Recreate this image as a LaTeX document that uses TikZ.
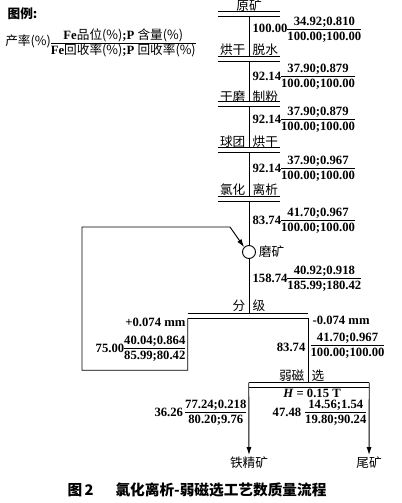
\documentclass[tikz,border=0pt]{standalone}
\usepackage{fontspec}
\setmainfont{Liberation Serif}
\newfontfamily\cjk{Noto Sans CJK SC}
\usetikzlibrary{arrows.meta,positioning}

\newcommand\frc[2]{$\vcenter{\offinterlineskip\halign{\hfil##\hfil\cr\rule[-2.6pt]{0pt}{7.6pt}#1\cr\noalign{\hrule height .6pt}\rule[-1.4pt]{0pt}{9.6pt}#2\cr}}$}

\tikzset{
  every node/.style={inner sep=1pt},
  bar/.style={minimum height=3pt,minimum width=46.5pt,inner sep=0pt},
  op/.style={font=\cjk\fontsize{9.5}{11}\selectfont},
  val/.style={font=\bfseries\fontsize{9.5}{11}\selectfont},
  flow/.style={line width=.7pt},
  arr/.style={flow,-{Latex[length=6pt,width=3.8pt]}}
}

\begin{document}
\begin{tikzpicture}[x=0.75pt,y=-0.75pt]
  \useasboundingbox (0,0) rectangle (402,503);

  % legend
  \node[op,font=\cjk\bfseries\fontsize{9.5}{11}\selectfont,anchor=west] (lg) at (6,14) {图例:};
  \node[val,anchor=west,inner sep=0pt] (lgy) at (5,43) {{\cjk\mdseries 产率(\%)}\frc{Fe{\cjk\mdseries 品位(\%)};P {\cjk\mdseries 含量(\%)}}{Fe{\cjk\mdseries 回收率(\%)};P {\cjk\mdseries 回收率(\%)}}};

  % bars
  \node[op] (ore) at (249,6) {原矿};
  \node[bar] (b0) at (249,14) {};
  \node[bar] (b1) at (249,59) {};
  \node[bar] (b2) at (249,104) {};
  \node[bar] (b3) at (249,150) {};
  \node[bar] (b4) at (249,199) {};
  \node[circle,draw,flow,minimum size=9.75pt,inner sep=0pt] (mill) at (249,252) {};
  \node[op,right=1pt of mill] (millt) {磨矿};
  \node[bar,minimum width=90pt] (cls) at (248,316) {};
  \node[bar,minimum width=90pt] (mag) at (309,385) {};

  \foreach \y/\a/\b [count=\i] in {50/烘干/脱水,97/干磨/制粉,142/球团/烘干,190/氯化/离析,306/分/级}
    {\node[op,anchor=east] (L\i a) at (247,\y) {\a};
     \node[op,anchor=west] (L\i b) at (251,\y) {\b};}
  \node[op,anchor=east] (Lma) at (306,376) {弱磁};
  \node[op,anchor=west] (Lmb) at (310,376) {选};

  \foreach \b in {b0,b1,b2,b3,b4,cls,mag}
    \draw[flow] (\b.north west) -- (\b.north east) (\b.south west) -- (\b.south east);

  % streams
  \foreach \y/\r/\n/\d [count=\i] in {30/100.00/34.92;0.810/100.00;100.00,
      77/92.14/37.90;0.879/100.00;100.00, 120/92.14/37.90;0.879/100.00;100.00,
      169/92.14/37.90;0.967/100.00;100.00, 221/83.74/41.70;0.967/100.00;100.00,
      279/158.74/40.92;0.918/185.99;180.42}
    \node[val,anchor=west] (s\i) at (251,\y) {\r\frc{\n}{\d}};

  \node[val,anchor=east] (cp) at (187,322) {+0.074 mm};
  \node[val,anchor=west] (cm) at (311,320) {-0.074 mm};
  \node[val,anchor=east] (s7) at (187,349) {75.00\frc{40.04;0.864}{85.99;80.42}};
  \node[val,anchor=east] (s8n) at (307,347) {83.74};
  \node[val,anchor=west] (s8f) at (309,346) {\frc{41.70;0.967}{100.00;100.00}};
  \node[val,inner sep=0pt] (fld) at (312,393) {\textit{H} = 0.15 T};
  \node[val,anchor=east] (s9) at (248,413) {36.26\,\frc{77.24;0.218}{80.20;9.76}};
  \node[val,anchor=east] (s10) at (368,413) {47.48\hspace{3pt}\frc{14.56;1.54}{19.80;90.24}};

  \node[op,anchor=north] (conc) at (249,455) {铁精矿};
  \node[op,anchor=north] (tail) at (369,455) {尾矿};

  % connectors
  \foreach \a/\b in {b0/b1,b1/b2,b2/b3,b3/b4,b4/mill}
    \draw[flow] (\a.south) -- (\b.north);
  \draw[flow] (mill) -- (mill |- cls.north);
  \draw[flow] (cls.south east) -- (cls.south east |- mag.north);
  \coordinate (fb) at (82,227);
  \draw[arr] (cls.south west) -- ++(0,52) -| (fb) -- ++(148,0) -- (mill.north west);
  \draw[arr] (mag.north west) -- (conc);
  \draw[arr] (mag.north east) -- (tail);

  \node[font=\cjk\bfseries\fontsize{11}{13}\selectfont] (cap) at (197,490) {图\,2\hspace{1.5em}氯化离析-弱磁选工艺数质量流程};
\end{tikzpicture}
\end{document}
